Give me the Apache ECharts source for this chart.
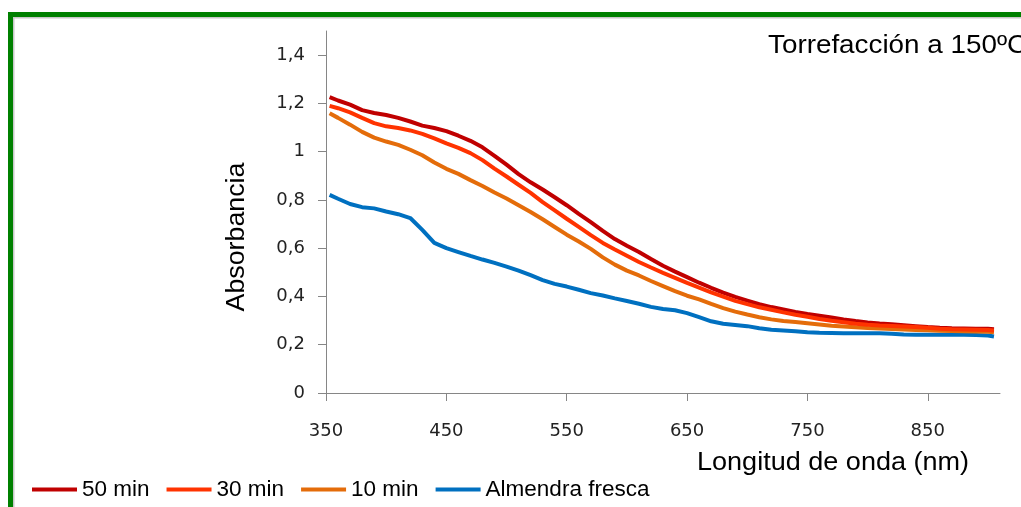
<!DOCTYPE html>
<html>
<head>
<meta charset="utf-8">
<script src="https://cdn.jsdelivr.net/npm/echarts@6/dist/echarts.min.js"></script>
<style>
html,body{margin:0;padding:0;background:#fff;}
#chart{width:1021px;height:507px;}
</style>
</head>
<body>
<div id="chart"></div>
<script>
// Wavelengths (nm)
var wavelengths = [353,360,370,380,390,400,410,420,430,440,450,460,470,480,490,500,510,520,530,540,550,560,570,580,590,600,610,620,630,640,650,660,670,680,690,700,710,720,730,740,750,760,770,780,790,800,810,820,830,840,850,860,870,880,890,900,905];

var min50 = [1.226,1.212,1.195,1.172,1.160,1.152,1.140,1.125,1.108,1.098,1.085,1.066,1.045,1.018,0.983,0.946,0.907,0.873,0.843,0.811,0.778,0.742,0.708,0.672,0.638,0.610,0.584,0.555,0.527,0.503,0.480,0.457,0.436,0.416,0.398,0.383,0.368,0.356,0.346,0.336,0.327,0.320,0.313,0.305,0.298,0.292,0.288,0.285,0.281,0.277,0.273,0.270,0.268,0.267,0.266,0.266,0.264];

var min30 = [1.190,1.180,1.163,1.140,1.118,1.105,1.098,1.088,1.074,1.055,1.034,1.016,0.994,0.965,0.930,0.897,0.863,0.829,0.791,0.757,0.722,0.688,0.654,0.622,0.595,0.569,0.543,0.520,0.498,0.477,0.456,0.437,0.417,0.399,0.382,0.368,0.355,0.345,0.334,0.324,0.316,0.307,0.299,0.293,0.287,0.283,0.280,0.278,0.276,0.273,0.270,0.266,0.264,0.263,0.262,0.261,0.259];

var min10 = [1.159,1.140,1.112,1.082,1.058,1.042,1.028,1.008,0.985,0.955,0.929,0.908,0.882,0.858,0.831,0.806,0.778,0.750,0.720,0.688,0.656,0.628,0.597,0.562,0.532,0.507,0.487,0.464,0.443,0.422,0.403,0.388,0.369,0.352,0.337,0.325,0.314,0.305,0.298,0.294,0.289,0.284,0.279,0.276,0.272,0.269,0.267,0.265,0.263,0.261,0.260,0.258,0.257,0.256,0.255,0.254,0.252];

var fresca = [0.821,0.805,0.783,0.770,0.765,0.752,0.741,0.725,0.676,0.622,0.600,0.584,0.568,0.553,0.539,0.524,0.507,0.488,0.468,0.452,0.441,0.428,0.414,0.404,0.392,0.381,0.370,0.357,0.348,0.343,0.331,0.314,0.297,0.287,0.282,0.277,0.268,0.262,0.259,0.256,0.252,0.250,0.249,0.248,0.248,0.248,0.248,0.246,0.242,0.241,0.241,0.241,0.241,0.241,0.240,0.238,0.234];

var xTicks = [350,450,550,650,750,850];
var yTicks = [0,0.2,0.4,0.6,0.8,1,1.2,1.4];
var seriesNames = ['50 min','30 min','10 min','Almendra fresca'];
var titleText = 'Torrefacción a 150ºC';
var xTitle = 'Longitud de onda (nm)';
var yTitle = 'Absorbancia';

function pairs(vals){
  return wavelengths.map(function(w,i){ return [w, vals[i]]; });
}

var chart = echarts.init(document.getElementById('chart'), null, {renderer:'canvas'});
var axisColor = '#868686';
var labelFont = 'DejaVu Sans';
var textFont = '"Liberation Sans", Arial, sans-serif';
var bigFont = '26px "Liberation Sans", Arial, sans-serif';

var option = {
  animation:false,
  backgroundColor:'#ffffff',
  grid:{left:326,right:21,top:31,bottom:114,containLabel:false,outerBoundsMode:'none'},
  legend:{
    data:seriesNames,
    left:32, top:478, padding:0,
    icon:'rect', itemWidth:45, itemHeight:4, itemGap:17,
    textStyle:{fontFamily:textFont,fontSize:22.5,color:'#000'}
  },
  xAxis:{
    type:'value', min:350, max:910,
    axisLine:{show:true,lineStyle:{color:axisColor,width:1}},
    axisTick:{show:true,length:8,lineStyle:{color:axisColor},customValues:xTicks},
    axisLabel:{customValues:xTicks,margin:29,fontFamily:labelFont,fontSize:18,color:'#222'},
    splitLine:{show:false}
  },
  yAxis:{
    type:'value', min:0, max:1.5,
    axisLine:{show:true,lineStyle:{color:axisColor,width:1}},
    axisTick:{show:true,length:8,lineStyle:{color:axisColor},customValues:yTicks},
    axisLabel:{customValues:yTicks,margin:21,fontFamily:labelFont,fontSize:18,color:'#222',
      formatter:function(v){ return String(v).replace('.',','); }},
    splitLine:{show:false}
  },
  graphic:[
    {type:'rect',shape:{x:8,y:12,width:1013,height:5},style:{fill:'#008000'},silent:true},
    {type:'rect',shape:{x:8,y:12,width:5,height:495},style:{fill:'#008000'},silent:true},
    {type:'rect',shape:{x:13,y:17,width:1008,height:1.5},style:{fill:'#c8c8c8'},silent:true},
    {type:'rect',shape:{x:13,y:17,width:1.5,height:490},style:{fill:'#c8c8c8'},silent:true},
    {type:'text',x:768,y:46,scaleX:1.07,style:{text:titleText,font:bigFont,fill:'#000',align:'left',verticalAlign:'middle'}},
    {type:'text',x:697,y:463,scaleX:1.04,style:{text:xTitle,font:bigFont,fill:'#000',align:'left',verticalAlign:'middle'}},
    {type:'text',x:237,y:237,rotation:Math.PI/2,scaleX:1.03,style:{text:yTitle,font:bigFont,fill:'#000',align:'center',verticalAlign:'middle'}}
  ],
  series:[
    {name:'Almendra fresca',type:'line',data:pairs(fresca),showSymbol:false,lineStyle:{width:4,color:'#0070C0'},itemStyle:{color:'#0070C0'}},
    {name:'10 min',type:'line',data:pairs(min10),showSymbol:false,lineStyle:{width:4,color:'#E46C0A'},itemStyle:{color:'#E46C0A'}},
    {name:'50 min',type:'line',data:pairs(min50),showSymbol:false,lineStyle:{width:4,color:'#C00000'},itemStyle:{color:'#C00000'}},
    {name:'30 min',type:'line',data:pairs(min30),showSymbol:false,lineStyle:{width:4,color:'#FF3300'},itemStyle:{color:'#FF3300'}}
  ]
};
chart.setOption(option);
</script>
</body>
</html>
